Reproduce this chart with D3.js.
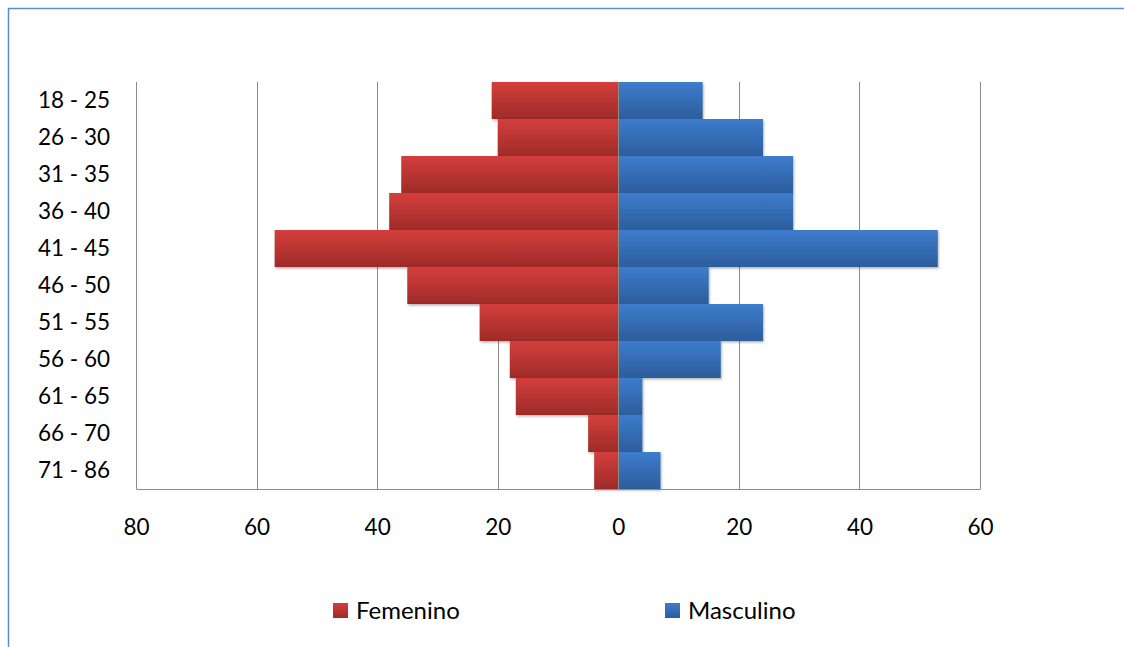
<!DOCTYPE html>
<html><head><meta charset="utf-8">
<script src="https://cdn.jsdelivr.net/npm/d3@7"></script>
<style>body{margin:0;background:#fff}svg{display:block}</style>
</head><body>
<svg id="c" width="1124" height="647"></svg>
<script>
const categories = ["18 - 25","26 - 30","31 - 35","36 - 40","41 - 45","46 - 50","51 - 55","56 - 60","61 - 65","66 - 70","71 - 86"];
const femenino = [21,20,36,38,57,35,23,18,17,5,4];
const masculino = [14,24,29,29,53,15,24,17,4,4,7];
const tickValues = [-80,-60,-40,-20,0,20,40,60];
const seriesNames = ["Femenino","Masculino"];

const svg = d3.select("#c");
const font = "Lato, 'Open Sans', sans-serif";
const x = d3.scaleLinear().domain([-80,60]).range([136,980]);
const y = d3.scaleBand().domain(categories).range([82,489]).padding(0);

const defs = svg.append("defs");
function grad(id, c1, c2){
  const g = defs.append("linearGradient").attr("id",id).attr("x1",0).attr("x2",0).attr("y1",0).attr("y2",1);
  g.append("stop").attr("offset","0%").attr("stop-color",c1);
  g.append("stop").attr("offset","100%").attr("stop-color",c2);
}
grad("gF","#d43f3c","#9e2b29");
grad("gM","#3d7ccc","#2c5d9c");
const f = defs.append("filter").attr("id","sh").attr("x","-10%").attr("y","-10%").attr("width","130%").attr("height","140%");
f.append("feDropShadow").attr("dx",1).attr("dy",1.5).attr("stdDeviation",1.2).attr("flood-color","#000").attr("flood-opacity",0.3);

// frame
svg.append("line").attr("x1",8).attr("x2",1124).attr("y1",8.5).attr("y2",8.5).attr("stroke","#5b8bd0").attr("stroke-width",1.5);
svg.append("line").attr("x1",8.5).attr("x2",8.5).attr("y1",8).attr("y2",647).attr("stroke","#5b8bd0").attr("stroke-width",1.5);

// gridlines
svg.append("g").selectAll("line").data(tickValues).join("line")
  .attr("x1",d=>Math.round(x(d))+0.5).attr("x2",d=>Math.round(x(d))+0.5)
  .attr("y1",82).attr("y2",489).attr("stroke","#8c8c8c").attr("stroke-width",1);

// bars
const g = svg.append("g");
g.selectAll("rect.f").data(categories).join("rect").attr("class","f")
  .attr("x",(d,i)=>x(-femenino[i])).attr("width",(d,i)=>x(0)-x(-femenino[i]))
  .attr("y",d=>y(d)).attr("height",y.bandwidth()).attr("fill","url(#gF)").attr("filter","url(#sh)");
g.selectAll("rect.m").data(categories).join("rect").attr("class","m")
  .attr("x",x(0)).attr("width",(d,i)=>x(masculino[i])-x(0))
  .attr("y",d=>y(d)).attr("height",y.bandwidth()).attr("fill","url(#gM)").attr("filter","url(#sh)");

// zero line on top
svg.append("line").attr("x1",Math.round(x(0))+0.5).attr("x2",Math.round(x(0))+0.5).attr("y1",82).attr("y2",489).attr("stroke","#8c8c8c");

// x axis
const xa = svg.append("g").attr("transform","translate(0,489)")
  .call(d3.axisBottom(x).tickValues(tickValues).tickFormat(d=>Math.abs(d)).tickSize(0).tickPadding(30));
xa.select(".domain").attr("stroke","#8c8c8c");
xa.selectAll("text").attr("font-family",font).attr("font-size",22.5).attr("fill","#000");

// y axis labels
const ya = svg.append("g").attr("transform","translate(136,0)")
  .call(d3.axisLeft(y).tickSize(0).tickPadding(26));
ya.select(".domain").attr("stroke","#8c8c8c");
ya.selectAll("text").attr("font-family",font).attr("font-size",22.5).attr("fill","#000");

// legend
const legX = [333,665];
const lg = svg.append("g").selectAll("g").data(seriesNames).join("g")
  .attr("transform",(d,i)=>`translate(${legX[i]},603)`);
lg.append("rect").attr("width",15).attr("height",15).attr("fill",(d,i)=>i?"url(#gM)":"url(#gF)");
lg.append("text").attr("x",23).attr("y",15.5).text(d=>d)
  .attr("font-family",font).attr("font-size",24).attr("fill","#000");
</script>
</body></html>
